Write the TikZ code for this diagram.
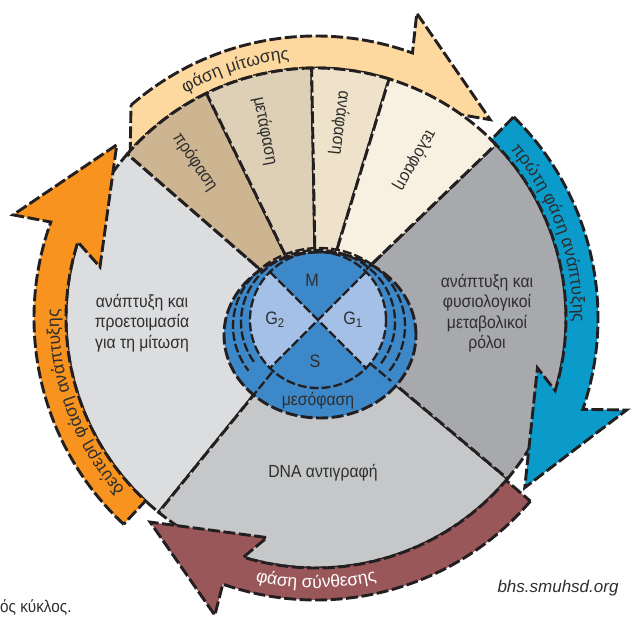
\documentclass[tikz,border=0pt]{standalone}
\usepackage{fontspec}
\setmainfont{Liberation Sans}
\newfontfamily\condf{Liberation Sans}[FakeStretch=0.9]
\usetikzlibrary{decorations.text}
\definecolor{cLeft}{HTML}{DCDDDF}
\definecolor{cDNA}{HTML}{C6C7C9}
\definecolor{cRight}{HTML}{A8A9AC}
\definecolor{cPro}{HTML}{CDB592}
\definecolor{cMeta}{HTML}{DDD0B7}
\definecolor{cAna}{HTML}{EEE3CA}
\definecolor{cTelo}{HTML}{F8F0E0}
\definecolor{cPeach}{HTML}{FDD9A0}
\definecolor{cBlueArr}{HTML}{0A9BCB}
\definecolor{cOrange}{HTML}{F7931E}
\definecolor{cBrown}{HTML}{9A575A}
\definecolor{cMid}{HTML}{3D88C8}
\definecolor{cLight}{HTML}{A5C0E6}
\definecolor{cInk}{HTML}{231F20}
\definecolor{cText}{HTML}{2E2E2E}
\newcommand\arcfnt{\fontsize{17.5}{19}\selectfont\color{cText}}
\newcommand\arcfntw{\fontsize{17.5}{19}\selectfont\color{white}}
\begin{document}
\begin{tikzpicture}[x=1pt,y=1pt,
  outl/.style={draw=cInk, line width=2.9pt, dash pattern=on 12pt off 3.5pt, line join=miter},
  thinl/.style={draw=cInk, line width=2.3pt, dash pattern=on 9pt off 3pt},
  lbl/.style={font=\condf\fontsize{17.5}{20.5}\selectfont, text=cText, align=center},
  fanlbl/.style={font=\condf\fontsize{17.5}{20}\selectfont, text=cText},
  ctr/.style={font=\condf\fontsize{18}{20}\selectfont, text=cText},
  arctext/.style={decorate, decoration={text along path, text align=center, text={#1}}}
]
\useasboundingbox (-316,-301) rectangle (316,318);

% mitosis arrow (behind the disc)
\draw[outl, fill=cPeach] (131:282) arc[start angle=131, end angle=70, radius=282]
  -- (71.7:321) -- (48.7:264) -- (77:225) -- (74:250)
  arc[start angle=74, end angle=138, radius=250] -- cycle;

% main sectors
\draw[outl, fill=cLeft] (0,0) -- (139:250) arc[start angle=139, end angle=231, radius=250] -- cycle;
\draw[outl, fill=cDNA] (0,0) -- (231:250) arc[start angle=231, end angle=320, radius=250] -- cycle;
\draw[outl, fill=cRight] (0,0) -- (320:250) arc[start angle=320, end angle=404, radius=250] -- cycle;
% mitosis fans
\draw[outl, fill=cPro] (0,0) -- (116:250) arc[start angle=116, end angle=139, radius=250] -- cycle;
\draw[outl, fill=cMeta] (0,0) -- (91:250) arc[start angle=91, end angle=116, radius=250] -- cycle;
\draw[outl, fill=cAna] (0,0) -- (73:250) arc[start angle=73, end angle=91, radius=250] -- cycle;
\draw[outl, fill=cTelo] (0,0) -- (44:250) arc[start angle=44, end angle=73, radius=250] -- cycle;

% other arrows
\draw[outl, fill=cBlueArr] (45.5:282) arc[start angle=45.5, end angle=-18.9, radius=282]
  -- (-16.5:324) -- (-39.1:269) -- (-12.7:227) -- (-16.9:250)
  arc[start angle=-16.9, end angle=45.5, radius=250] -- cycle;
\draw[outl, fill=cBrown] (-40.5:282) arc[start angle=-40.5, end angle=-109.3, radius=282]
  -- (-108.8:314) -- (-129.1:263) -- (-102.6:225) -- (-106.9:250)
  arc[start angle=-106.9, end angle=-40.5, radius=250] -- cycle;
\draw[outl, fill=cOrange] (-133:282) arc[start angle=-133, end angle=-199.9, radius=282]
  -- (-198.8:320) -- (-221:264) -- (-193.3:222) -- (-197.7:250)
  arc[start angle=-197.7, end angle=-133, radius=250] -- cycle;

% interphase centre
\fill[cMid] (4,-17) ellipse[x radius=96, y radius=83];
\fill[cLight] (2,-2) -- ++(135:68) arc[start angle=135, end angle=225, radius=68] -- cycle;
\fill[cLight] (2,-2) -- ++(-45:68) arc[start angle=-45, end angle=45, radius=68] -- cycle;
\draw[outl] (4,-17) ellipse[x radius=96, y radius=83];
\draw[thinl] (2,-2) circle[radius=68];
\draw[thinl] (3,-8) ++(-35:86 and 78) arc[start angle=-35, end angle=215, x radius=86, y radius=78];
\draw[thinl] (2,-4) ++(-35:77 and 72) arc[start angle=-35, end angle=215, x radius=77, y radius=72];
\draw[thinl] (2,-2) ++(45:68) -- ++(225:136);
\draw[thinl] (2,-2) ++(135:68) -- ++(-45:136);
\foreach \a in {139,44,231,320} \draw[thinl] (\a:70) -- (\a:98);

\node[ctr] (m) at (-4,38) {M};
\node[ctr] (g2) at (-41,-2) {G\textsubscript{2}};
\node[ctr] (g1) at (37,-2) {G\textsubscript{1}};
\node[ctr] (s) at (-1,-43) {S};
\node[ctr, font=\condf\fontsize{17.5}{20}\selectfont] (meso) at (2,-83) {μεσόφαση};

% sector labels
\node[lbl] (lefttxt) at (-174,-5) {ανάπτυξη και\\προετοιμασία\\για τη μίτωση};
\node[lbl] (righttxt) at (171,5) {ανάπτυξη και\\φυσιολογικοί\\μεταβολικοί\\ρόλοι};
\node[lbl] (dnatxt) at (7,-155) {DNA αντιγραφή};
\node[fanlbl, rotate=-56] (pro) at (-121,156) {πρόφαση};
\node[fanlbl, rotate=-79] (meta) at (-51,187) {μετάφαση};
\node[fanlbl, rotate=-97] (ana) at (24,195) {ανάφαση};
\node[fanlbl, rotate=-120] (telo) at (99,158) {τελόφαση};

% arrow labels
\path[arctext={|\arcfnt|φάση μίτωσης}] (134:260) arc[start angle=134, end angle=82, radius=260];
\path[arctext={|\arcfnt|πρώτη φάση ανάπτυξης}] (50:257) arc[start angle=50, end angle=-10, radius=257];
\path[arctext={|\arcfnt|δεύτερη φάση ανάπτυξης}] (231:257) arc[start angle=231, end angle=169, radius=257];
\path[arctext={|\arcfntw|φάση σύνθεσης}] (242:270) arc[start angle=242, end angle=298, radius=270];

\node[font=\fontsize{17}{20}\selectfont\itshape, text=cText, anchor=base east] (url) at (306,-274) {bhs.smuhsd.org};
\node[font=\condf\fontsize{17}{20}\selectfont, text=cText, anchor=base west, inner sep=0pt] (caption) at (-316,-294) {ός κύκλος.};
\end{tikzpicture}
\end{document}
